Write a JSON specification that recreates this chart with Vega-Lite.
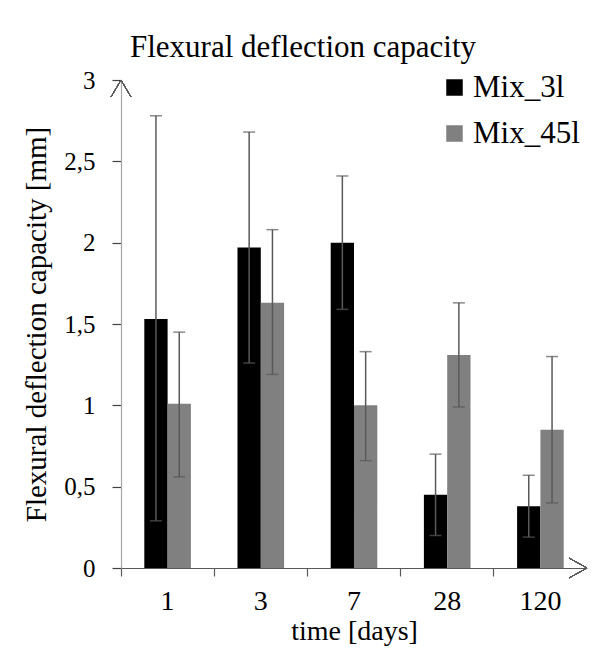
{
  "$schema": "https://vega.github.io/schema/vega-lite/v6.json",
  "width": 466,
  "height": 488,
  "autosize": {"type": "none"},
  "padding": {"left": 121, "top": 80, "right": 10, "bottom": 83},
  "background": "white",
  "config": {"view": {"stroke": null}, "font": "Liberation Serif"},
  "title": {
    "text": "Flexural deflection capacity",
    "anchor": "start",
    "frame": "group",
    "fontSize": 31,
    "fontWeight": "normal",
    "font": "Liberation Serif",
    "color": "black",
    "baseline": "alphabetic",
    "dx": 9,
    "dy": 31,
    "offset": 11
  },
  "data": {
    "values": [
      {"day": "1", "mix": "Mix_3l", "value": 1.53, "low": 0.29, "high": 2.78},
      {"day": "1", "mix": "Mix_45l", "value": 1.01, "low": 0.56, "high": 1.45},
      {"day": "3", "mix": "Mix_3l", "value": 1.97, "low": 1.26, "high": 2.68},
      {"day": "3", "mix": "Mix_45l", "value": 1.63, "low": 1.19, "high": 2.08},
      {"day": "7", "mix": "Mix_3l", "value": 2.0, "low": 1.59, "high": 2.41},
      {"day": "7", "mix": "Mix_45l", "value": 1.0, "low": 0.66, "high": 1.33},
      {"day": "28", "mix": "Mix_3l", "value": 0.45, "low": 0.2, "high": 0.7},
      {"day": "28", "mix": "Mix_45l", "value": 1.31, "low": 0.99, "high": 1.63},
      {"day": "120", "mix": "Mix_3l", "value": 0.38, "low": 0.19, "high": 0.57},
      {"day": "120", "mix": "Mix_45l", "value": 0.85, "low": 0.4, "high": 1.3}
    ]
  },
  "layer": [
    {
      "mark": {"type": "bar"},
      "encoding": {
        "x": {
          "field": "day",
          "type": "ordinal",
          "sort": ["1", "3", "7", "28", "120"],
          "scale": {"paddingInner": 0, "paddingOuter": 0},
          "axis": {
            "title": "time [days]",
            "titleFontSize": 28,
            "titleFontWeight": "normal",
            "titleColor": "black",
            "titlePadding": 2,
            "labelFontSize": 28,
            "labelColor": "black",
            "labelAngle": 0,
            "labelPadding": 11,
            "bandPosition": 0,
            "domainColor": "#595959",
            "domainWidth": 1.2,
            "tickColor": "#595959",
            "tickSize": 8,
            "tickWidth": 1.2
          }
        },
        "xOffset": {
          "field": "mix",
          "type": "nominal",
          "scale": {"paddingInner": 0, "paddingOuter": 1.07}
        },
        "y": {
          "field": "value",
          "type": "quantitative",
          "scale": {"domain": [0, 3]},
          "axis": {
            "title": "Flexural deflection capacity [mm]",
            "titleFontSize": 29,
            "titleFontWeight": "normal",
            "titleColor": "black",
            "titlePadding": 12,
            "values": [0, 0.5, 1, 1.5, 2, 2.5, 3],
            "labelExpr": "replace(format(datum.value, '~g'), '.', ',')",
            "labelFontSize": 25,
            "labelColor": "black",
            "labelPadding": 17,
            "grid": false,
            "domainColor": "#a6a6a6",
            "domainWidth": 1.2,
            "tickColor": "#404040",
            "tickSize": 9,
            "tickWidth": 1.2
          }
        },
        "color": {
          "field": "mix",
          "type": "nominal",
          "scale": {"domain": ["Mix_3l", "Mix_45l"], "range": ["#000000", "#808080"]},
          "legend": {
            "title": null,
            "orient": "none",
            "legendX": 318,
            "legendY": -8,
            "symbolType": "square",
            "symbolSize": 272,
            "symbolStrokeWidth": 0,
            "labelFontSize": 31,
            "labelColor": "black",
            "labelOffset": 3,
            "rowPadding": 14
          }
        }
      }
    },
    {
      "mark": {"type": "rule", "color": "#595959", "strokeWidth": 1.5},
      "encoding": {
        "x": {"field": "day", "type": "ordinal", "sort": ["1", "3", "7", "28", "120"]},
        "xOffset": {"field": "mix", "type": "nominal"},
        "y": {"field": "low", "type": "quantitative"},
        "y2": {"field": "high"}
      }
    },
    {
      "mark": {"type": "tick", "color": "#595959", "thickness": 1.5, "size": 12, "orient": "horizontal"},
      "encoding": {
        "x": {"field": "day", "type": "ordinal", "sort": ["1", "3", "7", "28", "120"]},
        "xOffset": {"field": "mix", "type": "nominal"},
        "y": {"field": "low", "type": "quantitative"}
      }
    },
    {
      "mark": {"type": "tick", "color": "#595959", "thickness": 1.5, "size": 12, "orient": "horizontal"},
      "encoding": {
        "x": {"field": "day", "type": "ordinal", "sort": ["1", "3", "7", "28", "120"]},
        "xOffset": {"field": "mix", "type": "nominal"},
        "y": {"field": "high", "type": "quantitative"}
      }
    },
    {
      "mark": {"type": "point", "shape": "M-1,1.7L0,0L1,1.7", "size": 400, "filled": false, "stroke": "#595959", "strokeWidth": 1, "opacity": 1},
      "encoding": {
        "x": {"datum": "1", "type": "ordinal", "bandPosition": 0},
        "y": {"datum": 3, "type": "quantitative"}
      }
    },
    {
      "mark": {"type": "point", "shape": "M-1.8,-1L0,0L-1.8,1", "size": 400, "filled": false, "stroke": "#595959", "strokeWidth": 1, "opacity": 1},
      "encoding": {
        "x": {"datum": "120", "type": "ordinal", "bandPosition": 1},
        "y": {"datum": 0, "type": "quantitative"}
      }
    }
  ]
}
